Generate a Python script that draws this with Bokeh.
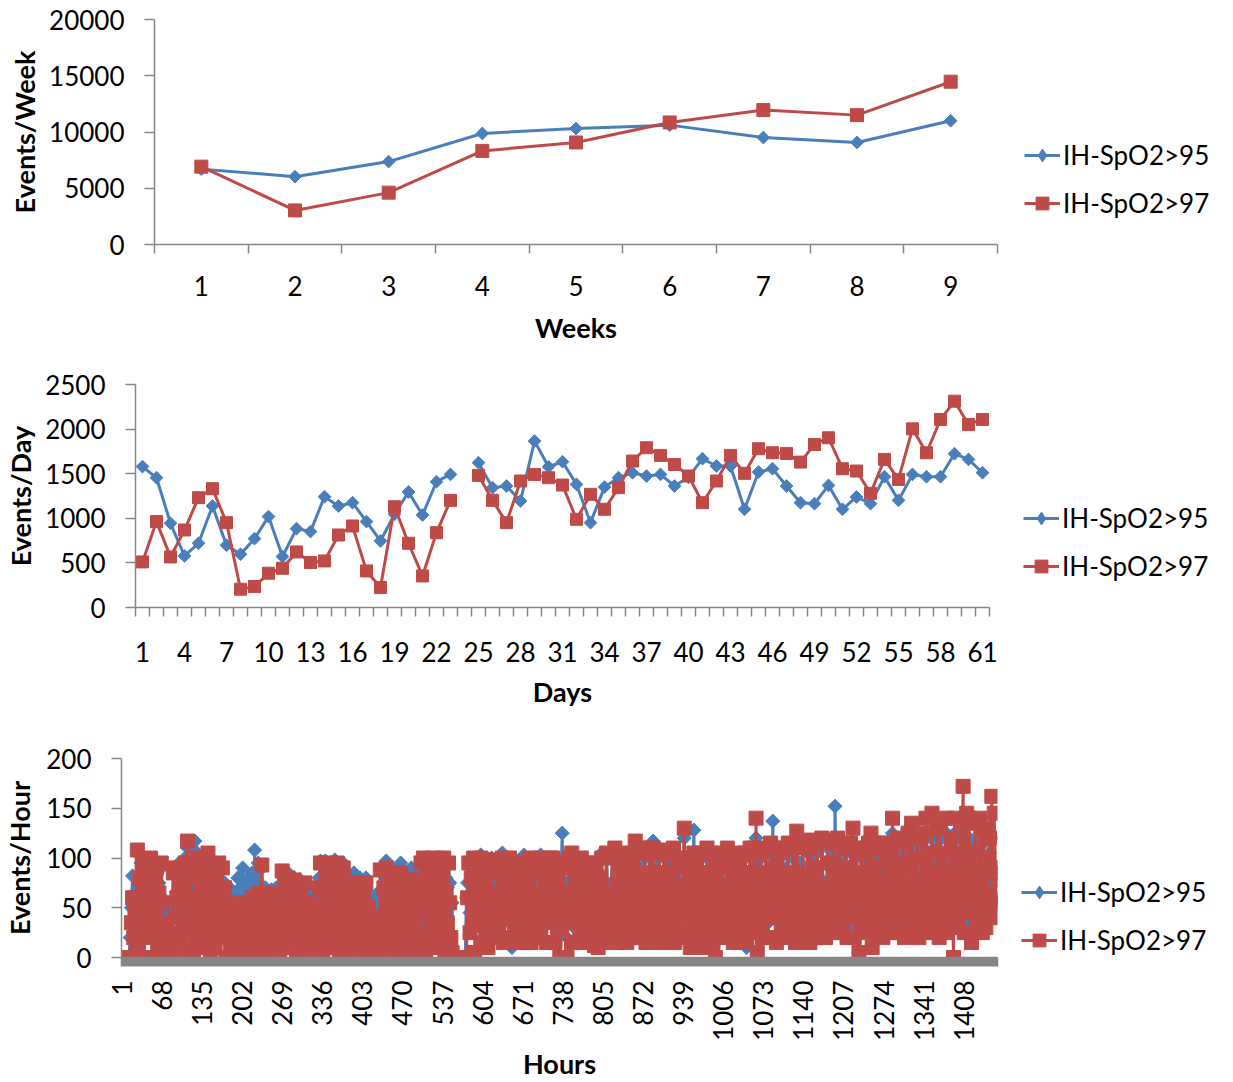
import math
import numpy as np
from bokeh.plotting import figure
from bokeh.layouts import column
from bokeh.models import FixedTicker, Legend, LegendItem, Range1d
from bokeh.embed import file_html
from bokeh.resources import INLINE

# ---------------- data ----------------
series_names = ["IH-SpO2>95", "IH-SpO2>97"]

weeks = [1, 2, 3, 4, 5, 6, 7, 8, 9]
week_ih95 = [6700, 6030, 7370, 9870, 10310, 10610, 9510, 9070, 11000]
week_ih97 = [6920, 3030, 4610, 8320, 9070, 10850, 11950, 11500, 14470]
week_yticks = [0, 5000, 10000, 15000, 20000]

days = list(range(1, 62))
day_ih95 = [1580, 1455, 944, 578, 720, 1138, 698, 597, 772, 1019,
            571, 884, 851, 1242, 1138, 1175, 963, 746, 1045, 1295,
            1037, 1410, 1492, None, 1623, 1343, 1362, 1194, 1866, 1578,
            1634, 1380, 951, 1350, 1455, 1510, 1474, 1492, 1362, 1460,
            1668, 1586, 1586, 1101, 1519, 1556, 1362, 1175, 1164, 1369,
            1101, 1239, 1164, 1466, 1201, 1492, 1466, 1466, 1724, 1660, 1511]
day_ih97 = [511, 963, 567, 869, 1231, 1332, 951, 205, 235, 384,
            440, 623, 504, 522, 813, 914, 410, 224, 1130, 720,
            354, 839, 1201, None, 1481, 1201, 951, 1418, 1492, 1455,
            1373, 989, 1269, 1101, 1343, 1642, 1791, 1705, 1604, 1474,
            1175, 1418, 1705, 1504, 1780, 1735, 1727, 1630, 1828, 1903,
            1556, 1530, 1280, 1660, 1436, 2003, 1735, 2108, 2313, 2052, 2108]
day_ticks = [1, 4, 7, 10, 13, 16, 19, 22, 25, 28, 31, 34, 37, 40, 43, 46, 49, 52, 55, 58, 61]
day_yticks = [0, 500, 1000, 1500, 2000, 2500]

# hourly values read every 2nd hour (hours 1, 3, 5, ... 1463), 12 readings per day
hour_samples = list(range(1, 1465, 2))
hour_ih95 = [
    0, 0, 0, 0, 0, 0, 0, 20, 50, 82, 40, 65,              # day 1
    80, 60, 105, 40, 95, 20, 75, 50, 90, 30, 65, 85,      # 2
    100, 55, 30, 80, 45, 95, 50, 75, 40, 90, 60, 45,      # 3
    45, 50, 40, 45, 50, 45, 40, 85, 55, 90, 60, 50,       # 4
    95, 55, 30, 80, 45, 100, 60, 110, 40, 85, 50, 70,     # 5
    30, 117, 60, 105, 40, 95, 70, 50, 95, 55, 80, 60,     # 6
    100, 60, 35, 85, 50, 92, 45, 75, 55, 90, 60, 40,      # 7
    92, 55, 75, 30, 60, 45, 70, 40, 65, 50, 55, 60,       # 8
    45, 80, 60, 70, 55, 90, 65, 40, 75, 55, 80, 50,       # 9
    60, 85, 40, 108, 55, 70, 95, 45, 60, 90, 50, 70,      # 10
    70, 45, 20, 65, 40, 68, 35, 55, 50, 70, 30, 60,       # 11
    40, 70, 85, 45, 80, 55, 30, 85, 60, 45, 75, 50,       # 12
    75, 50, 35, 70, 45, 78, 30, 65, 55, 75, 60, 40,       # 13
    65, 60, 55, 62, 58, 60, 55, 62, 60, 80, 97, 60,       # 14
    40, 75, 97, 50, 92, 60, 30, 95, 65, 50, 98, 60,       # 15
    93, 60, 25, 85, 50, 95, 40, 75, 55, 80, 65, 45,       # 16
    30, 60, 85, 45, 75, 55, 40, 80, 65, 50, 70, 45,       # 17
    80, 55, 65, 40, 60, 35, 55, 30, 50, 40, 65, 25,       # 18
    90, 65, 45, 85, 55, 97, 50, 75, 60, 90, 65, 40,       # 19
    85, 60, 50, 80, 55, 95, 45, 70, 60, 85, 65, 40,       # 20
    40, 65, 90, 55, 80, 60, 45, 85, 70, 55, 95, 75,       # 21
    100, 65, 35, 90, 55, 98, 45, 80, 60, 100, 70, 40,     # 22
    92, 70, 60, 85, 65, 100, 55, 80, 70, 95, 75, 55,      # 23
    55, 0, 0, 0, 0, 0, 0, 0, 0, 0, 0, 0,                  # 24
    60, 75, 98, 45, 90, 55, 100, 30, 80, 50, 95, 65,      # 25
    103, 60, 30, 90, 50, 100, 35, 75, 55, 100, 65, 40,    # 26
    30, 75, 95, 50, 90, 60, 105, 35, 80, 55, 100, 65,     # 27
    98, 60, 10, 90, 50, 95, 35, 75, 55, 92, 65, 40,       # 28
    103, 60, 30, 90, 50, 100, 35, 75, 55, 98, 65, 40,     # 29
    30, 75, 103, 50, 90, 60, 100, 35, 80, 55, 98, 65,     # 30
    98, 60, 30, 90, 50, 100, 45, 80, 125, 55, 70, 35,     # 31
    20, 75, 95, 50, 100, 60, 30, 85, 90, 55, 75, 40,      # 32
    95, 60, 30, 85, 50, 90, 40, 75, 55, 92, 65, 10,       # 33
    90, 60, 30, 85, 50, 105, 35, 75, 55, 100, 65, 40,     # 34
    30, 75, 98, 50, 105, 60, 35, 85, 95, 55, 75, 40,      # 35
    100, 60, 35, 90, 50, 98, 40, 80, 55, 110, 65, 40,     # 36
    105, 60, 35, 90, 55, 100, 40, 80, 60, 105, 70, 45,    # 37
    117, 60, 35, 90, 55, 100, 30, 80, 60, 105, 70, 45,    # 38
    100, 60, 15, 90, 55, 105, 35, 80, 60, 95, 70, 45,     # 39
    35, 75, 120, 50, 95, 60, 95, 40, 85, 55, 128, 65,     # 40
    95, 60, 30, 90, 55, 100, 30, 80, 60, 105, 70, 45,     # 41
    100, 60, 30, 90, 15, 75, 95, 50, 90, 55, 100, 40,     # 42
    30, 75, 105, 50, 95, 60, 95, 35, 85, 55, 100, 45,     # 43
    95, 60, 30, 90, 55, 100, 10, 80, 60, 105, 70, 40,     # 44
    105, 60, 120, 25, 90, 50, 100, 40, 80, 55, 105, 65,   # 45
    35, 75, 110, 55, 137, 65, 100, 40, 85, 55, 100, 45,   # 46
    105, 60, 35, 90, 55, 108, 40, 80, 60, 100, 70, 35,    # 47
    112, 65, 30, 95, 55, 110, 40, 80, 60, 105, 70, 30,    # 48
    110, 65, 35, 95, 55, 105, 35, 80, 60, 112, 70, 45,    # 49
    30, 75, 110, 55, 100, 65, 108, 40, 152, 60, 110, 45,  # 50
    108, 65, 30, 95, 55, 105, 35, 85, 60, 110, 70, 115,   # 51
    30, 75, 105, 55, 5, 65, 100, 40, 90, 60, 105, 45,     # 52
    110, 65, 105, 30, 95, 55, 100, 40, 85, 60, 110, 45,   # 53
    30, 75, 110, 55, 100, 65, 105, 40, 125, 60, 85, 40,   # 54
    110, 65, 35, 100, 55, 105, 35, 85, 60, 115, 75, 45,   # 55
    120, 70, 35, 100, 60, 110, 35, 85, 65, 115, 75, 40,   # 56
    125, 70, 40, 105, 60, 120, 40, 90, 65, 115, 80, 35,   # 57
    120, 70, 40, 105, 60, 125, 35, 90, 65, 110, 75, 40,   # 58
    125, 70, 40, 105, 60, 120, 95, 130, 35, 85, 120, 65,  # 59
    120, 65, 25, 100, 60, 115, 40, 90, 65, 125, 75, 40,   # 60
    115, 70, 40, 100, 60, 105, 80, 120, 55, 75, 60, 55,   # 61
]
hour_ih97 = [
    0, 0, 0, 0, 0, 0, 0, 0, 35, 60, 20, 45,               # day 1
    50, 108, 15, 80, 30, 95, 0, 65, 40, 90, 55, 20,       # 2
    100, 45, 0, 80, 25, 90, 10, 65, 35, 95, 55, 20,       # 3
    30, 20, 5, 25, 10, 20, 0, 85, 40, 90, 60, 15,         # 4
    90, 45, 0, 75, 25, 95, 60, 117, 35, 85, 10, 55,       # 5
    0, 95, 40, 100, 20, 80, 55, 10, 90, 30, 65, 45,       # 6
    105, 45, 0, 80, 25, 90, 10, 65, 35, 95, 55, 20,       # 7
    90, 40, 70, 0, 55, 20, 45, 10, 50, 30, 0, 35,         # 8
    0, 50, 25, 40, 10, 55, 30, 0, 45, 20, 55, 15,         # 9
    30, 60, 0, 50, 20, 45, 65, 10, 40, 93, 25, 60,        # 10
    65, 30, 0, 55, 20, 60, 10, 45, 35, 65, 5, 50,         # 11
    0, 60, 87, 25, 75, 40, 10, 80, 50, 20, 65, 35,        # 12
    78, 35, 0, 65, 20, 70, 10, 55, 30, 75, 45, 15,        # 13
    55, 25, 0, 45, 15, 50, 5, 40, 30, 70, 95, 20,         # 14
    0, 60, 95, 25, 80, 40, 10, 90, 50, 20, 70, 35,        # 15
    95, 45, 0, 80, 25, 90, 10, 65, 35, 75, 55, 20,        # 16
    0, 50, 75, 20, 65, 35, 5, 70, 45, 15, 60, 30,         # 17
    75, 35, 50, 0, 30, 10, 25, 0, 20, 5, 30, 15,          # 18
    88, 40, 0, 70, 20, 90, 10, 60, 30, 85, 50, 15,        # 19
    80, 40, 0, 70, 20, 85, 10, 60, 30, 78, 50, 15,        # 20
    0, 50, 78, 20, 65, 35, 5, 70, 45, 15, 95, 60,         # 21
    100, 45, 0, 80, 25, 95, 10, 65, 35, 100, 55, 20,      # 22
    90, 45, 10, 80, 25, 100, 0, 65, 35, 95, 55, 20,       # 23
    5, 0, 0, 0, 0, 0, 0, 0, 0, 0, 0, 0,                   # 24
    0, 60, 95, 25, 80, 40, 100, 5, 70, 35, 90, 50,        # 25
    100, 50, 15, 80, 30, 95, 10, 65, 40, 98, 55, 25,      # 26
    20, 65, 95, 35, 85, 50, 100, 15, 75, 40, 95, 55,      # 27
    100, 50, 20, 80, 35, 95, 15, 65, 40, 90, 55, 25,      # 28
    95, 50, 15, 80, 30, 100, 15, 65, 40, 92, 55, 25,      # 29
    20, 65, 100, 35, 85, 50, 95, 15, 75, 40, 100, 55,     # 30
    100, 50, 15, 80, 30, 95, 0, 65, 40, 90, 55, 0,        # 31
    0, 65, 100, 35, 105, 50, 15, 80, 95, 40, 70, 25,      # 32
    100, 50, 15, 80, 30, 95, 20, 65, 40, 90, 55, 12,      # 33
    95, 50, 10, 80, 30, 100, 15, 65, 40, 105, 55, 25,     # 34
    20, 65, 100, 35, 110, 50, 15, 80, 95, 40, 70, 30,     # 35
    105, 50, 15, 85, 30, 100, 20, 70, 40, 117, 55, 25,    # 36
    110, 55, 20, 85, 35, 105, 15, 70, 45, 110, 60, 25,    # 37
    110, 55, 20, 85, 35, 105, 15, 70, 45, 108, 60, 30,    # 38
    105, 55, 20, 85, 35, 110, 15, 70, 45, 100, 60, 25,    # 39
    20, 70, 130, 40, 90, 55, 100, 10, 80, 45, 105, 30,    # 40
    100, 55, 20, 85, 35, 105, 10, 70, 45, 110, 60, 25,    # 41
    105, 55, 15, 85, 0, 70, 100, 35, 90, 45, 105, 25,     # 42
    20, 70, 110, 40, 90, 55, 100, 15, 80, 45, 105, 30,    # 43
    100, 55, 20, 85, 35, 105, 15, 70, 45, 110, 60, 25,    # 44
    110, 55, 140, 5, 85, 35, 105, 20, 70, 45, 110, 60,    # 45
    20, 70, 115, 40, 90, 55, 110, 15, 80, 45, 105, 30,    # 46
    110, 55, 20, 85, 35, 115, 25, 70, 45, 110, 60, 15,    # 47
    127, 55, 20, 85, 35, 115, 25, 70, 45, 110, 60, 15,    # 48
    118, 55, 25, 90, 40, 115, 20, 70, 50, 120, 65, 30,    # 49
    20, 70, 118, 40, 95, 55, 115, 25, 80, 50, 120, 35,    # 50
    115, 60, 25, 90, 40, 110, 20, 75, 50, 115, 65, 130,   # 51
    20, 70, 110, 40, 5, 55, 105, 25, 85, 50, 110, 35,     # 52
    115, 60, 125, 10, 90, 40, 110, 25, 75, 50, 115, 35,   # 53
    20, 70, 115, 40, 95, 55, 110, 25, 140, 50, 80, 30,    # 54
    120, 60, 25, 95, 40, 115, 20, 75, 50, 125, 65, 30,    # 55
    135, 60, 25, 100, 40, 120, 20, 80, 50, 125, 70, 30,   # 56
    140, 65, 25, 105, 45, 145, 30, 85, 55, 130, 70, 20,   # 57
    130, 65, 30, 105, 45, 140, 25, 85, 55, 120, 70, 0,    # 58
    140, 65, 30, 105, 45, 135, 90, 172, 25, 80, 145, 55,  # 59
    140, 60, 15, 105, 45, 135, 30, 85, 55, 140, 70, 25,   # 60
    130, 65, 30, 100, 50, 120, 85, 162, 40, 145, 90, 55,  # 61
]
hour_ticks = [1, 68, 135, 202, 269, 336, 403, 470, 537, 604, 671, 738, 805, 872, 939,
              1006, 1073, 1140, 1207, 1274, 1341, 1408]
hour_count = 1464
hour_yticks = [0, 50, 100, 150, 200]

assert len(hour_ih95) == len(hour_samples) == len(hour_ih97)

# ---------------- style ----------------
BLUE = "#4A7EBB"
RED = "#BE4B48"
AXIS = "#868686"
FONT = "Lato"
TICK_SIZE = "26px"
TITLE_SIZE = "27px"
LEG_SIZE = "26px"


def build(x, yb, yr, n_cat, yticks, xticks, ylabel, xlabel,
          fw, fh, bl, bt, bb, br, leg_loc,
          xl_standoff, xt_standoff, yl_standoff, yt_standoff,
          msq, mdia, lw, vertical=False):
    p = figure(frame_width=fw, frame_height=fh,
               min_border_left=bl, min_border_top=bt,
               min_border_bottom=bb, min_border_right=br,
               x_range=Range1d(0.5, n_cat + 0.5),
               y_range=Range1d(yticks[0], yticks[-1]),
               output_backend="svg", toolbar_location=None, title=None,
               frame_align=False)
    p.outline_line_color = None
    p.xgrid.visible = False
    p.ygrid.visible = False
    p.background_fill_color = "white"
    p.border_fill_color = "white"

    xa = np.array(x, dtype=float)
    yb = np.array([np.nan if v is None else v for v in yb], dtype=float)
    yr = np.array([np.nan if v is None else v for v in yr], dtype=float)

    lb = p.line(xa, yb, line_color=BLUE, line_width=lw)
    p.scatter(xa, yb, marker="square", angle=math.pi / 4, size=mdia,
              fill_color=BLUE, line_color=BLUE)
    lr = p.line(xa, yr, line_color=RED, line_width=lw)
    sr = p.scatter(xa, yr, marker="square", size=msq,
                   fill_color=RED, line_color=RED)
    # key glyph used only in the legend (diamond marker)
    key_b = p.scatter([np.nan], [np.nan], marker="diamond",
                      fill_color=BLUE, line_color=BLUE)

    minor = [i + 0.5 for i in range(0, n_cat + 1)]
    xax = p.xaxis[0]
    xax.ticker = FixedTicker(ticks=xticks, minor_ticks=minor)
    xax.axis_line_color = AXIS
    xax.axis_line_width = 1.5
    xax.major_tick_out = 0
    xax.major_tick_in = 0
    xax.minor_tick_in = 0
    xax.minor_tick_out = 9
    xax.minor_tick_line_color = AXIS
    xax.minor_tick_line_width = 1.5
    xax.major_label_text_font = FONT
    xax.major_label_text_font_size = TICK_SIZE
    xax.major_label_text_color = "#000000"
    xax.major_label_standoff = xl_standoff
    xax.axis_label = xlabel
    xax.axis_label_text_font = FONT
    xax.axis_label_text_font_style = "bold"
    xax.axis_label_text_font_size = TITLE_SIZE
    xax.axis_label_text_color = "#000000"
    xax.axis_label_standoff = xt_standoff
    if vertical:
        xax.major_label_orientation = math.pi / 2

    yax = p.yaxis[0]
    yax.ticker = FixedTicker(ticks=yticks, minor_ticks=[])
    yax.axis_line_color = AXIS
    yax.axis_line_width = 1.5
    yax.major_tick_out = 10
    yax.major_tick_in = 0
    yax.major_tick_line_color = AXIS
    yax.major_tick_line_width = 1.5
    yax.minor_tick_out = 0
    yax.minor_tick_in = 0
    yax.major_label_text_font = FONT
    yax.major_label_text_font_size = TICK_SIZE
    yax.major_label_text_color = "#000000"
    yax.major_label_standoff = yl_standoff
    yax.axis_label = ylabel
    yax.axis_label_text_font = FONT
    yax.axis_label_text_font_style = "bold"
    yax.axis_label_text_font_size = TITLE_SIZE
    yax.axis_label_text_color = "#000000"
    yax.axis_label_standoff = yt_standoff

    legend = Legend(items=[LegendItem(label=series_names[0], renderers=[lb, key_b]),
                           LegendItem(label=series_names[1], renderers=[lr, sr])],
                    location=leg_loc, orientation="vertical",
                    border_line_color=None, background_fill_alpha=0,
                    padding=0, margin=0, spacing=16,
                    glyph_width=36, glyph_height=32, label_height=32,
                    label_standoff=3,
                    label_text_font=FONT, label_text_font_size=LEG_SIZE,
                    label_text_color="#000000")
    p.add_layout(legend, "right")
    return p


p1 = build(weeks, week_ih95, week_ih97, len(weeks), week_yticks, weeks,
           "Events/Week", "Weeks",
           fw=843, fh=225, bl=154, bt=19, bb=115, br=222, leg_loc=(27, 25),
           xl_standoff=22, xt_standoff=12, yl_standoff=20, yt_standoff=5,
           msq=13, mdia=9, lw=3)

p2 = build(days, day_ih95, day_ih97, len(days), day_yticks, day_ticks,
           "Events/Day", "Days",
           fw=854, fh=223, bl=135, bt=25, bb=127, br=230, leg_loc=(34, 25),
           xl_standoff=25, xt_standoff=10, yl_standoff=20, yt_standoff=5,
           msq=12, mdia=9, lw=3)

p3 = build(hour_samples, hour_ih95, hour_ih97, hour_count, hour_yticks, hour_ticks,
           "Events/Hour", "Hours",
           fw=876, fh=199, bl=115, bt=24, bb=122, br=226, leg_loc=(24, 1),
           xl_standoff=14, xt_standoff=3, yl_standoff=20, yt_standoff=7,
           msq=14, mdia=10, lw=3, vertical=True)

layout = column(p1, p2, p3, spacing=0)

open("out.html", "w").write(file_html(layout, INLINE))
